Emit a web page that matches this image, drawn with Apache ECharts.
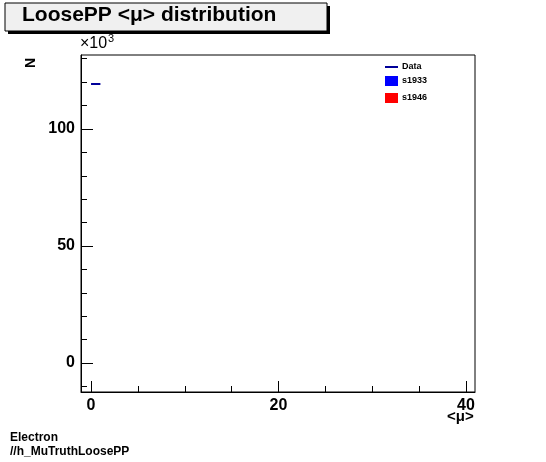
<!DOCTYPE html>
<html><head><meta charset="utf-8">
<script src="https://cdn.jsdelivr.net/npm/echarts@6/dist/echarts.min.js"></script>
<style>html,body{margin:0;padding:0;background:#fff}#c{width:546px;height:462px}</style>
</head><body><div id="c"></div>
<script>
// bin edges and counts of the one filled bin (in units of 10^3)
var binLow = [0];
var binHigh = [1];
var counts = [119.2];
var xMajor = [0, 20, 40];
var xMinor = [0, 5, 10, 15, 20, 25, 30, 35, 40];
var yMajor = [0, 50, 100];
var yMinor = [-10, 0, 10, 20, 30, 40, 50, 60, 70, 80, 90, 100, 110, 120, 130];

var font = '"Liberation Sans", Arial, sans-serif';
var dataPts = [];
for (var i = 0; i < counts.length; i++) {
	dataPts.push([binLow[i], counts[i]]);
	dataPts.push([binHigh[i], counts[i]]);
}
function axis(type, idx, vals, len, labels) {
	return {
		type: 'value', min: type == 'x' ? -1.07 : -12.4, max: type == 'x' ? 40.96 : 131.6,
		position: type == 'x' ? 'bottom' : 'left',
		axisLine: {show: idx == 0, onZero: false, lineStyle: {color: '#000', width: 1}},
		axisTick: {show: true, inside: true, length: len, customValues: vals, lineStyle: {color: '#000'}},
		axisLabel: {show: labels, customValues: vals, color: '#000', fontFamily: font,
			fontWeight: 'bold', fontSize: 16, margin: 6},
		splitLine: {show: false}
	};
}
var chart = echarts.init(document.getElementById('c'));
chart.setOption({
	animation: false,
	grid: {left: 81, top: 55, width: 394, height: 337, show: true, borderColor: '#000', borderWidth: 1},
	xAxis: [axis('x', 0, xMajor, 11, true), axis('x', 1, xMinor, 6, false)],
	yAxis: [axis('y', 0, yMajor, 12, true), axis('y', 1, yMinor, 6, false)],
	series: [{
		type: 'line', data: dataPts, symbol: 'none',
		lineStyle: {color: '#000099', width: 2}
	}],
	graphic: [
		{type: 'rect', shape: {x: 8, y: 6, width: 322, height: 28}, style: {fill: '#000'}},
		{type: 'rect', shape: {x: 5, y: 3, width: 322, height: 28}, style: {fill: '#f0f0f0', stroke: '#000', lineWidth: 1}},
		{type: 'text', left: 22, top: 5, style: {text: 'LoosePP <μ> distribution', font: 'bold 21px ' + font, fill: '#000'}},
		{type: 'text', left: 80, top: 36, style: {text: '×10', font: '16px ' + font, fill: '#000'}},
		{type: 'text', left: 108, top: 33, style: {text: '3', font: '11px ' + font, fill: '#000'}},
		{type: 'text', x: 24, y: 68, rotation: Math.PI / 2, style: {text: 'N', font: 'bold 14px ' + font, fill: '#000'}},
		{type: 'text', left: 447, top: 409, style: {text: '<μ>', font: 'bold 15px ' + font, fill: '#000'}},
		{type: 'line', shape: {x1: 385, y1: 67, x2: 398, y2: 67}, style: {stroke: '#000099', lineWidth: 2}},
		{type: 'text', left: 402, top: 62, style: {text: 'Data', font: 'bold 9px ' + font, fill: '#000'}},
		{type: 'rect', shape: {x: 385, y: 76, width: 13, height: 10}, style: {fill: '#0000ff'}},
		{type: 'text', left: 402, top: 76, style: {text: 's1933', font: 'bold 9px ' + font, fill: '#000'}},
		{type: 'rect', shape: {x: 385, y: 93, width: 13, height: 10}, style: {fill: '#ff0000'}},
		{type: 'text', left: 402, top: 93, style: {text: 's1946', font: 'bold 9px ' + font, fill: '#000'}},
		{type: 'text', left: 10, top: 432, style: {text: 'Electron', font: 'bold 12px ' + font, fill: '#000'}},
		{type: 'text', left: 10, top: 446, style: {text: '//h_MuTruthLoosePP', font: 'bold 12px ' + font, fill: '#000'}}
	]
});
</script></body></html>
